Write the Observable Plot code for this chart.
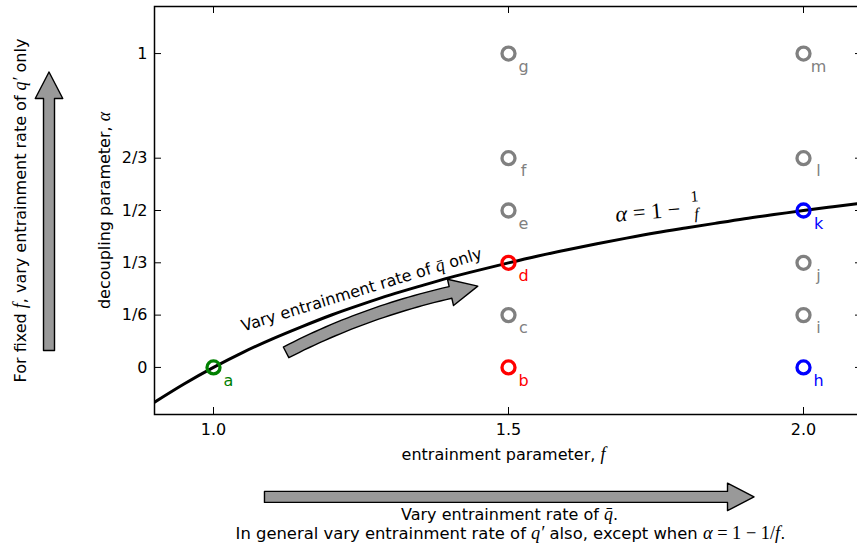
<!DOCTYPE html>
<html><head><meta charset="utf-8">
<script src="https://cdn.jsdelivr.net/npm/d3@7"></script>
<script src="https://cdn.jsdelivr.net/npm/@observablehq/plot@0.6"></script>
<style>html,body{margin:0;padding:0;overflow:hidden;background:#fff} svg{max-width:none!important;display:block}</style>
</head><body><div id="chart"></div>
<script>
// ---- data ----
const pointNames = ["a","b","c","d","e","f","g","h","i","j","k","l","m"];
const pointF = [1.0, 1.5, 1.5, 1.5, 1.5, 1.5, 1.5, 2.0, 2.0, 2.0, 2.0, 2.0, 2.0];
const pointAlpha = [0, 0, 1/6, 1/3, 1/2, 2/3, 1, 0, 1/6, 1/3, 1/2, 2/3, 1];
const pointColors = ["#008000","#ff0000","#808080","#ff0000","#808080","#808080","#808080",
                     "#0000ff","#808080","#808080","#0000ff","#808080","#808080"];
// curve alpha = 1 - 1/f
const curveF = [0.90,0.95,1.00,1.05,1.10,1.15,1.20,1.25,1.30,1.35,1.40,1.45,1.50,
                1.55,1.60,1.65,1.70,1.75,1.80,1.85,1.90,1.95,2.00,2.05,2.10];
const curveAlpha = [-0.111,-0.053,0.000,0.048,0.091,0.130,0.167,0.200,0.231,0.259,0.286,0.310,0.333,
                    0.355,0.375,0.394,0.412,0.429,0.444,0.459,0.474,0.487,0.500,0.512,0.524];
const xTicks = [1.0, 1.5, 2.0];
const xTickLabels = ["1.0", "1.5", "2.0"];
const yTicks = [0, 1/6, 1/3, 1/2, 2/3, 1];
const yTickLabels = ["0", "1/6", "1/3", "1/2", "2/3", "1"];
// annotation arrows (tail, bend, head base) in data units
const arrowTail = [[1.123, 0.048], [0.7212, 0.054], [1.0864, -0.4126]];
const arrowCtrl = [[1.2534, 0.175], [0.7212, 0.4556], [1.4788, -0.4126]];
const arrowBase = [[1.4017, 0.239], [0.7212, 0.857], [1.8712, -0.4126]];

// ---- layout ----
const W = 866, H = 546, mL = 154, mR = 4, mT = 6, mB = 132;
const xDomain = [0.9, 2.1], yDomain = [-0.15, 1.15];
const plotW = W - mL - mR, plotH = H - mT - mB;
const kx = plotW / (xDomain[1] - xDomain[0]);
const ky = plotH / (yDomain[1] - yDomain[0]);
const toPx = ([x, y]) => [mL + (x - xDomain[0]) * kx, H - mB - (y - yDomain[0]) * ky];
const toData = ([px, py]) => [xDomain[0] + (px - mL) / kx, yDomain[0] + (H - mB - py) / ky];

function arrowPolygon(tail, ctrl, base, body, head, len) {
  const p0 = toPx(tail), p1 = toPx(ctrl), p2 = toPx(base);
  const n = 30, left = [], right = [];
  let end;
  for (let i = 0; i <= n; i++) {
    const t = i / n;
    const x = (1-t)**2*p0[0] + 2*(1-t)*t*p1[0] + t*t*p2[0];
    const y = (1-t)**2*p0[1] + 2*(1-t)*t*p1[1] + t*t*p2[1];
    const dx = 2*(1-t)*(p1[0]-p0[0]) + 2*t*(p2[0]-p1[0]);
    const dy = 2*(1-t)*(p1[1]-p0[1]) + 2*t*(p2[1]-p1[1]);
    const L = Math.hypot(dx, dy), ux = dx/L, uy = dy/L, nx = -uy, ny = ux;
    left.push([x + nx*body/2, y + ny*body/2]);
    right.push([x - nx*body/2, y - ny*body/2]);
    if (i === n) end = {x, y, ux, uy, nx, ny};
  }
  const poly = [...left,
    [end.x + end.nx*head/2, end.y + end.ny*head/2],
    [end.x + end.ux*len, end.y + end.uy*len],
    [end.x - end.nx*head/2, end.y - end.ny*head/2],
    ...right.reverse()];
  return poly.map(toData).map(([x, y]) => ({x, y}));
}

const points = pointNames.map((name, i) => ({name, f: pointF[i], alpha: pointAlpha[i], color: pointColors[i]}));
const curve = curveF.map((f, i) => ({f, alpha: curveAlpha[i]}));
const arrows = arrowTail.map((t, i) => arrowPolygon(t, arrowCtrl[i], arrowBase[i],
  i === 0 ? 12 : 11, i === 0 ? 27 : 27.5, i === 0 ? 28 : 26.5));

const arrowMarks = arrows.map(poly => Plot.line(poly, {x: "x", y: "y", fill: "#999999", stroke: "black",
  strokeWidth: 1.4, curve: "linear-closed"}));

const FS = 16;
const chart = Plot.plot({
  width: W, height: H,
  marginLeft: mL, marginRight: mR, marginTop: mT, marginBottom: mB,
  style: {fontFamily: "'DejaVu Sans', sans-serif", fontSize: FS + "px", color: "black", background: "white", overflow: "visible", maxWidth: "none"},
  x: {domain: xDomain},
  y: {domain: yDomain},
  color: {type: "identity"},
  marks: [
    Plot.line(curve, {x: "f", y: "alpha", stroke: "black", strokeWidth: 3, curve: "natural", clip: true}),
    Plot.dot(points, {x: "f", y: "alpha", r: 6.5, stroke: "color", strokeWidth: 3.3, fill: "none"}),
    Plot.text(points, {x: "f", y: "alpha", text: "name", fill: "color", dx: 15, dy: 13, fontSize: FS}),
    // inward ticks on all four sides
    Plot.tickY(yTicks, {y: d => d, insetRight: plotW - 7, stroke: "black", strokeWidth: 1}),
    Plot.tickY(yTicks, {y: d => d, insetLeft: plotW - 7, stroke: "black", strokeWidth: 1}),
    Plot.tickX(xTicks, {x: d => d, insetTop: plotH - 7, stroke: "black", strokeWidth: 1}),
    Plot.tickX(xTicks, {x: d => d, insetBottom: plotH - 7, stroke: "black", strokeWidth: 1}),
    Plot.axisX(xTicks, {tickSize: 0, tickPadding: 9, label: null, fontSize: FS,
      tickFormat: d => xTickLabels[xTicks.indexOf(d)]}),
    Plot.axisY(yTicks, {tickSize: 0, tickPadding: 7, label: null, fontSize: FS,
      tickFormat: d => yTickLabels[yTicks.indexOf(d)]}),
    Plot.frame({stroke: "black", strokeWidth: 1.5}),
    ...arrowMarks,
    // annotations
    Plot.text(["Vary entrainment rate of {q\u0304} only"], {x: 1.251, y: 0.247, rotate: -17, fontSize: 16}),
    Plot.text(["{α}[ = 1 − ]"], {x: 1.741, y: 0.494, rotate: -5, fontSize: 20}),
    Plot.text(["[1]"], {x: 1.8153, y: 0.543, rotate: -5, fontSize: 14}),
    Plot.text(["{f}"], {x: 1.8186, y: 0.488, rotate: -5, fontSize: 14}),
    Plot.text(["entrainment parameter, {f}"], {frameAnchor: "bottom", textAnchor: "middle", lineAnchor: "middle", dx: -5, dy: 40, fontSize: FS}),
    Plot.text(["decoupling parameter, {α}"], {frameAnchor: "left", textAnchor: "middle", lineAnchor: "middle", dx: -50, rotate: -90, fontSize: FS}),
    Plot.text(["For fixed {f}, vary entrainment rate of {q′} only"], {frameAnchor: "left", textAnchor: "middle", lineAnchor: "middle", dx: -134, rotate: -90, fontSize: FS}),
    Plot.text(["Vary entrainment rate of {q\u0304}."], {frameAnchor: "bottom", textAnchor: "middle", lineAnchor: "middle", dx: 1, dy: 100, fontSize: FS}),
    Plot.text(["In general vary entrainment rate of {q′} also, except when {α}[ = 1 − 1/]{f}."], {frameAnchor: "bottom", textAnchor: "middle", lineAnchor: "middle", dx: 2, dy: 119, fontSize: 16.4})
  ]
});

// render {..} as italic serif math and [..] as upright serif math
function styleMath(svg) {
  const NS = "http://www.w3.org/2000/svg";
  svg.querySelectorAll("text").forEach(t => {
    const nodes = t.querySelector("tspan") ? Array.from(t.querySelectorAll("tspan")) : [t];
    nodes.forEach(node => {
      const s = node.textContent;
      if (!/[\{\[]/.test(s)) return;
      node.textContent = "";
      s.split(/(\{[^}]*\}|\[[^\]]*\])/).forEach(part => {
        if (!part) return;
        const ts = document.createElementNS(NS, "tspan");
        if (part[0] === "{" || part[0] === "[") {
          ts.textContent = part.slice(1, -1);
          ts.setAttribute("font-family", "'Liberation Serif', 'DejaVu Serif', serif");
          if (part[0] === "{") ts.setAttribute("font-style", "italic");
          ts.setAttribute("font-size", "1.12em");
        } else ts.textContent = part;
        node.appendChild(ts);
      });
    });
  });
}
styleMath(chart);
document.getElementById("chart").appendChild(chart);
</script>
</body></html>
